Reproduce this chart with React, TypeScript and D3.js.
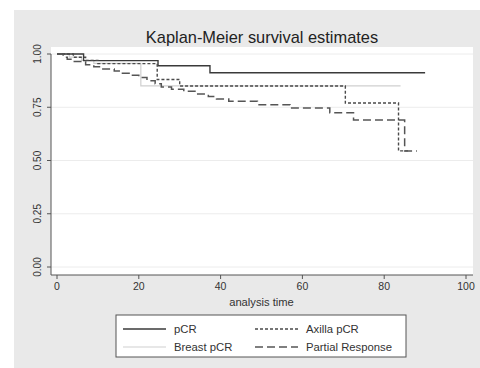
import React from "react";
import * as d3 from "d3";

const title = "Kaplan-Meier survival estimates";
const xLabel = "analysis time";
const xTicks = [0, 20, 40, 60, 80, 100];
const yTicks = [0, 0.25, 0.5, 0.75, 1];
const yTickLabels = ["0.00", "0.25", "0.50", "0.75", "1.00"];

// step functions: [time, survival] (value holds from that time on)
const pcrTimes = [0, 6.5, 24.7, 37.4, 90];
const pcrSurv = [1, 0.969, 0.945, 0.912, 0.912];

const breastTimes = [0, 3, 6, 9, 20.5, 84];
const breastSurv = [1, 0.985, 0.97, 0.956, 0.85, 0.85];

const axillaTimes = [0, 4, 7, 10, 24.5, 30, 70.5, 83.5, 86];
const axillaSurv = [1, 0.985, 0.97, 0.955, 0.88, 0.85, 0.77, 0.545, 0.545];

const partialTimes = [0, 1.5, 2.5, 4, 7, 9, 11, 14, 16, 18, 20, 22, 24, 25.5, 28, 31, 34, 37, 39, 42, 49, 57, 66.7, 72.5, 85, 88];
const partialSurv = [1, 0.985, 0.975, 0.965, 0.95, 0.94, 0.93, 0.92, 0.91, 0.9, 0.89, 0.875, 0.86, 0.845, 0.835, 0.825, 0.812, 0.8, 0.789, 0.778, 0.762, 0.746, 0.724, 0.69, 0.545, 0.545];

const seriesNames = ["pCR", "Breast pCR", "Axilla pCR", "Partial Response"];

const W = 480;
const H = 368;
const plot = { left: 51, right: 473, top: 47, bottom: 275 };

export default function App() {
  const x = d3.scaleLinear().domain([0, 100]).range([57, 466]);
  const y = d3.scaleLinear().domain([0, 1]).range([267, 54]);
  const line = d3
    .line<[number, number]>()
    .x((d) => x(d[0]))
    .y((d) => y(d[1]))
    .curve(d3.curveStepAfter);

  const mk = (t: number[], s: number[]) => t.map((v, i) => [v, s[i]] as [number, number]);

  const series = [
    { name: seriesNames[0], data: mk(pcrTimes, pcrSurv), color: "#3a3a3a", dash: "", w: 1.4 },
    { name: seriesNames[1], data: mk(breastTimes, breastSurv), color: "#cfcfcf", dash: "", w: 1.2 },
    { name: seriesNames[2], data: mk(axillaTimes, axillaSurv), color: "#4a4a4a", dash: "3,2", w: 1.4 },
    { name: seriesNames[3], data: mk(partialTimes, partialSurv), color: "#555555", dash: "8,4", w: 1.5 },
  ];
  const drawOrder = [1, 0, 2, 3];

  const font = "'Liberation Sans', Arial, sans-serif";

  const legendPos = [
    { lx: 123, tx: 174, y: 329 },
    { lx: 123, tx: 174, y: 347 },
    { lx: 255, tx: 306, y: 329 },
    { lx: 255, tx: 306, y: 347 },
  ];

  return (
    <svg width={W} height={H} style={{ position: "absolute", left: 0, top: 0 }} fontFamily={font}>
      <rect x={0} y={0} width={W} height={H} fill="#ffffff" />
      <rect x={14} y={10} width={W - 14} height={H - 10} fill="#e9e9e9" />
      <rect x={plot.left} y={plot.top} width={plot.right - plot.left} height={plot.bottom - plot.top} fill="#ffffff" />
      {yTicks.map((t) => (
        <line key={"g" + t} x1={plot.left} x2={plot.right} y1={y(t)} y2={y(t)} stroke="#ececec" strokeWidth={1} />
      ))}
      <text x={262} y={43} textAnchor="middle" fontSize={16.4} fill="#222">
        {title}
      </text>
      {/* y axis */}
      <line x1={plot.left} x2={plot.left} y1={y(1)} y2={plot.bottom} stroke="#555" strokeWidth={1} />
      {yTicks.map((t, i) => (
        <g key={"y" + t}>
          <line x1={plot.left - 4} x2={plot.left} y1={y(t)} y2={y(t)} stroke="#555" />
          <text
            transform={`translate(${plot.left - 10},${y(t)}) rotate(-90)`}
            textAnchor="middle"
            fontSize={10}
            fill="#333"
          >
            {yTickLabels[i]}
          </text>
        </g>
      ))}
      {/* x axis */}
      <line x1={plot.left} x2={plot.right} y1={plot.bottom} y2={plot.bottom} stroke="#555" strokeWidth={1} />
      {xTicks.map((t) => (
        <g key={"x" + t}>
          <line x1={x(t)} x2={x(t)} y1={plot.bottom} y2={plot.bottom + 4} stroke="#555" />
          <text x={x(t)} y={plot.bottom + 15} textAnchor="middle" fontSize={10.5} fill="#333">
            {t}
          </text>
        </g>
      ))}
      <text x={(x(0) + x(100)) / 2} y={306} textAnchor="middle" fontSize={11.2} fill="#333">
        {xLabel}
      </text>
      {drawOrder.map((i) => {
        const s = series[i];
        return (
          <path
            key={s.name}
            d={line(s.data) || ""}
            fill="none"
            stroke={s.color}
            strokeWidth={s.w}
            strokeDasharray={s.dash}
          />
        );
      })}
      {/* legend */}
      <rect x={116} y={315} width={290} height={42} fill="#ffffff" stroke="#555" strokeWidth={1} />
      {series.map((s, i) => {
        const p = legendPos[i];
        return (
          <g key={"l" + s.name}>
            <line x1={p.lx} x2={p.lx + 43} y1={p.y} y2={p.y} stroke={s.color} strokeWidth={s.w} strokeDasharray={s.dash} />
            <text x={p.tx} y={p.y + 4} fontSize={11.3} fill="#333">
              {s.name}
            </text>
          </g>
        );
      })}
    </svg>
  );
}
